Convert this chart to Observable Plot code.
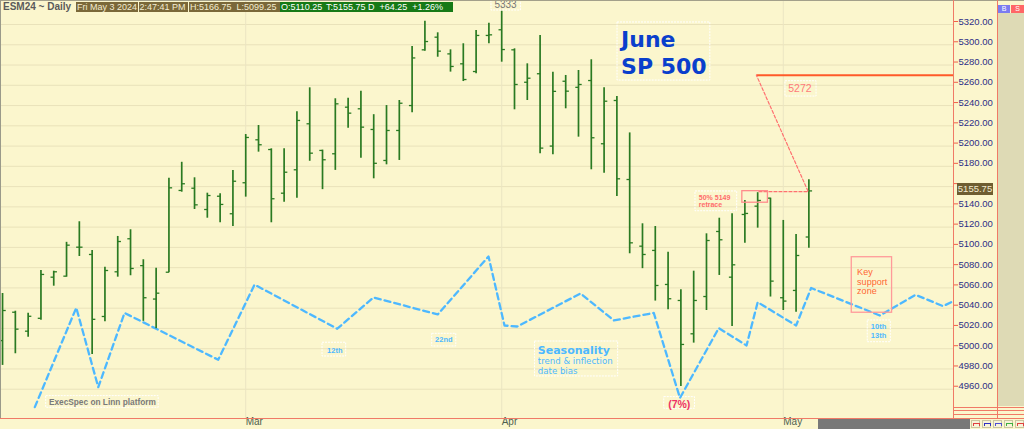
<!DOCTYPE html>
<html><head><meta charset="utf-8">
<script src="https://cdn.jsdelivr.net/npm/d3@7"></script>
<script src="https://cdn.jsdelivr.net/npm/@observablehq/plot@0.6"></script>
<style>
html,body{margin:0;padding:0;background:#fbf6cd;overflow:hidden;}
#wrap{position:relative;width:1024px;height:429px;font-family:"Liberation Sans",Arial,sans-serif;overflow:hidden;}
.a{position:absolute;}
.hb{position:absolute;top:2px;height:10px;line-height:10px;font-size:9px;white-space:pre;padding-left:1px;box-sizing:border-box;}
.brown{background:#7a6839;color:#f3ecd2;}
.green{background:#167a16;color:#ffffff;}
</style></head><body><div id="wrap"></div>
<script>
// ---- data ----
const dates = ["Feb 2","Feb 5","Feb 6","Feb 7","Feb 8","Feb 9","Feb 12","Feb 13","Feb 14","Feb 15","Feb 16","Feb 20","Feb 21","Feb 22","Feb 23","Feb 26","Feb 27","Feb 28","Feb 29",
"Mar 1","Mar 4","Mar 5","Mar 6","Mar 7","Mar 8","Mar 11","Mar 12","Mar 13","Mar 14","Mar 15","Mar 18","Mar 19","Mar 20","Mar 21","Mar 22","Mar 25","Mar 26","Mar 27","Mar 28",
"Apr 1","Apr 2","Apr 3","Apr 4","Apr 5","Apr 8","Apr 9","Apr 10","Apr 11","Apr 12","Apr 15","Apr 16","Apr 17","Apr 18","Apr 19","Apr 22","Apr 23","Apr 24","Apr 25","Apr 26","Apr 29","Apr 30",
"May 1","May 2","May 3"];
const opens  = [5008,5036,5017.3,5030,5070.6,5071.6,5100.2,5093,5031.8,5075.9,5108.5,5082,5049,5075.5,5156.2,5158.4,5137.4,5150.5,5133.2,
5163.8,5206.2,5196.6,5153.5,5176.6,5222,5195.7,5192.4,5238.4,5236.8,5216.4,5185.8,5215.4,5240,5295,5307.5,5291,5281.2,5273.6,5309.2,
5314.8,5295,5263,5271.4,5200,5264,5258,5264.7,5202.3,5245,5167,5101.2,5097,5063.4,5047.6,5014.7,5051.5,5115.7,5070.6,5132.5,5140.7,5148.6,
5050.3,5057.5,5110.25];
const highs  = [5054.5,5037,5035,5077.2,5076.5,5105,5125.3,5097,5080.5,5110.8,5117.4,5087.8,5079.5,5168.3,5184,5168.7,5153.5,5153,5176,
5211.4,5220.3,5197.3,5197.3,5234,5257.5,5196,5246.7,5247.3,5254,5231,5240,5245,5298.3,5323.3,5311.8,5295,5301,5314,5321.3,
5333,5296,5281.2,5309.2,5273,5269.7,5274.6,5285.2,5257.5,5249,5213,5123.3,5120.6,5095.3,5058.2,5076.5,5113.4,5128.8,5133.2,5146.3,5154,5148.6,
5126.6,5112.7,5166.75];
const lows   = [4983.5,4995,5011.4,5028,5061.7,5070.6,5091,4994.3,5026.6,5070.6,5072,5027,5019.7,5075,5154.5,5137.4,5128.8,5124.3,5120.6,
5149.6,5194,5124.3,5144.6,5148.6,5185,5157,5176,5217.7,5188,5167.7,5181.5,5185.8,5233,5293.7,5287.7,5273,5263.7,5271.4,5301,
5282.8,5235.8,5245,5192.4,5191.4,5236.8,5208.8,5176.6,5173.2,5150.2,5093.7,5079,5047,5038.4,4962.7,5005.5,5037.7,5072.3,5022,5104.2,5119,5051,
5037.7,5036,5099.25];
const closes = [5037.7,5019.3,5032,5073.3,5075.9,5102.2,5100.2,5029,5077.2,5105.8,5079.2,5050.3,5054.8,5158.8,5162.8,5142,5151.2,5142.4,5165.3,
5208.5,5201.3,5148,5174.2,5225.3,5193,5186.5,5241.7,5232.5,5218.7,5183,5215.4,5242.3,5287,5303.2,5293.7,5278.6,5265.7,5309.2,5309.8,
5295.3,5260.8,5267,5198,5254,5254.2,5260.8,5208.2,5244.3,5167.7,5104.5,5093,5062.4,5049.3,5004.2,5047.6,5106.8,5107.5,5082.8,5133.5,5146.3,5066.7,
5047,5092,5155.75];

// seasonality overlay (trading-day index, value on price scale)
const seasonIdx = [2.52,5.76,7.48,9.53,16.85,19.69,26.15,28.98,34.0,37.97,39.22,40.21,45.16,47.76,50.88,52.93,55.96,58.13,59.0,62.0,63.18,68.54,71.33,73.49,74.3];
const seasonVal = [4942.3,5040.4,4962,5035.3,4989.1,5063.2,5019.7,5050.6,5033.8,5091,5022.9,5021.9,5054.5,5027.9,5035.3,4951.4,5020.3,5003.2,5045.9,5022.9,5059.9,5032.8,5053.2,5042,5047];

const yTicks = [4960,4980,5000,5020,5040,5060,5080,5100,5120,5140,5160,5180,5200,5220,5240,5260,5280,5300,5320];
const monthIdx = [19,39,61];
const monthLabels = ["Mar","Apr","May"];
const xDomain = [-0.16, 74.3];
const yDomain = [4931.1, 5343.7];

// annotations (index / price units)
const targetLine = [{i1:58.9, i2:74.3, p:5270}];
const fibPath = [{i:59.1,p:5155},{i:62.95,p:5155},{i:58.9,p:5270}];
const retraceBox = [{i1:57.8,i2:59.8,p1:5144.1,p2:5155.5}];
const supportBox = [{i1:66.35,i2:69.5,p1:5035.5,p2:5090.3}];
const labelBoxes = [
  {i1:48.05,i2:55.3,p1:5264.7,p2:5322},
  {i1:41.6,i2:48.1,p1:4972.6,p2:5007.1},
  {i1:3.41,i2:12.2,p1:4941.7,p2:4953.2},
  {i1:25.0,i2:26.85,p1:4992.3,p2:5005.9},
  {i1:33.57,i2:35.45,p1:5002.2,p2:5014.7},
  {i1:67.6,i2:69.4,p1:5006.4,p2:5027.9},
  {i1:61.17,i2:63.6,p1:5248.9,p2:5264},
  {i1:54.14,i2:57.4,p1:5135.7,p2:5155.2},
  {i1:51.7,i2:54.1,p1:4940.7,p2:4952.2},
  {i1:38.2,i2:40.5,p1:5333.8,p2:5345}
];
const titleText = [{t:"June",i:48.33,p:5304.5},{t:"SP 500",i:48.33,p:5278.3}];
const dayLabels = [{t:"12th",i:25.96,p:4998.3},{t:"22nd",i:34.48,p:5008.8},{t:"10th",i:68.44,p:5021.4},{t:"13th",i:68.44,p:5013.3}];
const seasonTitle = [{t:"Seasonality",i:41.82,p:4998.3}];
const seasonSub = [{t:"trend & inflection",i:41.82,p:4987.4},{t:"date bias",i:41.82,p:4978.2}];
const supportText = [{t:"Key",i:66.77,p:5075.2},{t:"support",i:66.77,p:5066.1},{t:"zone",i:66.77,p:5057}];
const retraceText = [{t:"50% 5149",i:54.4,p:5148.9},{t:"retrace",i:54.4,p:5141.8}];
const targetText = [{t:"5272",i:62.3,p:5256.5}];
const pctText = [{t:"(7%)",i:52.87,p:4944.7}];
const sourceText = [{t:"ExecSpec on Linn platform",i:3.62,p:4946.6}];
const highText = [{t:"5333",i:39.3,p:5339.5}];

const bars = dates.map((d,k)=>({i:k,date:d,open:opens[k],high:highs[k],low:lows[k],close:closes[k]}));
const season = seasonIdx.map((x,k)=>({i:x,v:seasonVal[k]}));
const last = closes[closes.length-1];

const green = "#2a7a22";
const blue = "#4db8ff";
const plot = Plot.plot({
  width:1024, height:429,
  marginLeft:0, marginRight:71, marginTop:0, marginBottom:11,
  x:{domain:xDomain, axis:null},
  y:{domain:yDomain, axis:null},
  style:{background:"#fbf6cd", fontFamily:"Liberation Sans, Arial, sans-serif", overflow:"visible"},
  marks:[
    Plot.ruleY(yTicks,{stroke:"#e9e2ba", strokeWidth:1}),
    Plot.ruleX(monthIdx,{stroke:"#ebe5c2", strokeWidth:1}),
    Plot.axisY(yTicks,{anchor:"right", tickSize:4, tickPadding:1, stroke:"#f06048", fill:"#2e2e86", fontSize:9.5, dy:-3,
      tickFormat:d=>Math.abs(d-last)<8 ? "" : d.toFixed(2)}),
    Plot.text(monthIdx,{x:d=>d, frameAnchor:"bottom", dy:6, text:(d,k)=>monthLabels[k], textAnchor:"start", fill:"#4f5f4f", fontSize:10}),
    Plot.rect(labelBoxes,{x1:"i1",x2:"i2",y1:"p1",y2:"p2", fill:"none", stroke:"#ffffff", strokeWidth:1, strokeDasharray:"2,1"}),
    Plot.line(season,{x:"i", y:"v", stroke:blue, strokeWidth:2.3, strokeDasharray:"6,4"}),
    Plot.ruleX(bars,{x:"i", y1:"low", y2:"high", stroke:green, strokeWidth:1.7}),
    Plot.link(bars,{x1:d=>d.i-0.25, x2:"i", y1:"open", y2:"open", stroke:green, strokeWidth:1.3}),
    Plot.link(bars,{x1:"i", x2:d=>d.i+0.25, y1:"close", y2:"close", stroke:green, strokeWidth:1.3}),
    Plot.link(targetLine,{x1:"i1", x2:"i2", y1:"p", y2:"p", stroke:"#ff5a28", strokeWidth:2}),
    Plot.line(fibPath,{x:"i", y:"p", stroke:"#ff7070", strokeWidth:1.2, strokeDasharray:"3,2"}),
    Plot.rect(retraceBox,{x1:"i1",x2:"i2",y1:"p1",y2:"p2", fill:"none", stroke:"#ff8c8c", strokeWidth:1.3}),
    Plot.rect(supportBox,{x1:"i1",x2:"i2",y1:"p1",y2:"p2", fill:"none", stroke:"#ff9a9a", strokeWidth:1.3}),
    Plot.text(titleText,{x:"i", y:"p", text:"t", textAnchor:"start", fill:"#0a3fcc", fontSize:22, fontWeight:"bold", fontFamily:"DejaVu Sans"}),
    Plot.text(dayLabels,{x:"i", y:"p", text:"t", fill:blue, fontSize:7.5, fontWeight:"bold"}),
    Plot.text(seasonTitle,{x:"i", y:"p", text:"t", textAnchor:"start", fill:blue, fontSize:11, fontWeight:"bold", fontFamily:"DejaVu Sans"}),
    Plot.text(seasonSub,{x:"i", y:"p", text:"t", textAnchor:"start", fill:blue, fontSize:8.6, fontFamily:"DejaVu Sans"}),
    Plot.text(supportText,{x:"i", y:"p", text:"t", textAnchor:"start", fill:"#ff6633", fontSize:9}),
    Plot.text(retraceText,{x:"i", y:"p", text:"t", textAnchor:"start", fill:"#ff6b6b", fontSize:7, fontWeight:"bold"}),
    Plot.text(targetText,{x:"i", y:"p", text:"t", fill:"#ff7a7a", fontSize:10.5}),
    Plot.text(pctText,{x:"i", y:"p", text:"t", fill:"#ee3366", fontSize:10.5, fontWeight:"bold"}),
    Plot.text(sourceText,{x:"i", y:"p", text:"t", textAnchor:"start", fill:"#7a7a7a", fontSize:8.3, fontWeight:"bold"}),
    Plot.text(highText,{x:"i", y:"p", text:"t", fill:"#777777", fontSize:10})
  ]
});
const wrap = document.getElementById("wrap");
plot.style.position="absolute"; plot.style.left="0"; plot.style.top="0";
wrap.appendChild(plot);

function div(css, html){const d=document.createElement("div");d.className="a";d.style.cssText=css;if(html!=null)d.innerHTML=html;wrap.appendChild(d);return d;}
// chrome
div("left:0;top:0;width:1024px;height:1px;background:#a3a08a;");
div("left:0;top:0;width:1px;height:418px;background:#9a9a8a;");
div("left:953px;top:0;width:1px;height:418px;background:#f07a66;");
div("left:997px;top:0;width:1px;height:418px;background:#f07a66;");
div("left:998px;top:13px;width:26px;height:393px;background:#dedab5;");
div("left:998px;top:5px;width:12px;height:8px;background:#7b7bf0;color:#fff;font-size:7px;line-height:8px;text-align:center;","B");
div("left:1011px;top:5px;width:13px;height:8px;background:#ff6666;color:#fff;font-size:7px;line-height:8px;text-align:center;","S");
div("left:0;top:418px;width:1024px;height:1px;background:#f07a66;");
div("left:953px;top:407px;width:71px;height:1px;background:#f07a66;");
div("left:953px;top:410px;width:71px;height:1px;background:#f07a66;");
div("left:953px;top:414px;width:71px;height:1px;background:#f07a66;");
div("left:818px;top:419px;width:152px;height:10px;background:#787878;");
["#e04040","#3030c0","#5050d0","#40b040","#e04040"].forEach((c,k)=>{
  div(`left:${971+k*11}px;top:420px;width:9px;height:8px;background:#f8f3d8;border:1px solid #ccc6a0;box-sizing:border-box;`);
  div(`left:${973+k*11}px;top:423px;width:5px;height:2px;border:1px solid ${c};border-bottom:none;`);
});
// header
div("left:3px;top:1px;font-size:10px;font-weight:bold;color:#5a5a5a;line-height:12px;","ESM24 ~ Daily");
const hdr=[["brown",76,62,"Fri May 3 2024"],["brown",138.5,49.5,"2:47:41 PM"],["brown",189,91,"H:5166.75  L:5099.25"],["green",280,44.5,"O:5110.25"],["green",325,128,"T:5155.75 D  +64.25  +1.26%"]];
hdr.forEach(h=>{const d=document.createElement("div");d.className="hb "+h[0];d.style.left=h[1]+"px";d.style.width=h[2]+"px";d.textContent=h[3];wrap.appendChild(d);});
// last price tag on the axis
const ys = plot.scale("y");
const yy = ys.apply(last);
div(`left:957px;top:${yy-7}px;width:36px;height:12px;background:#6e5d31;color:#f3ecd2;font-size:9.5px;line-height:12px;text-align:center;`, last.toFixed(2));
</script></body></html>
